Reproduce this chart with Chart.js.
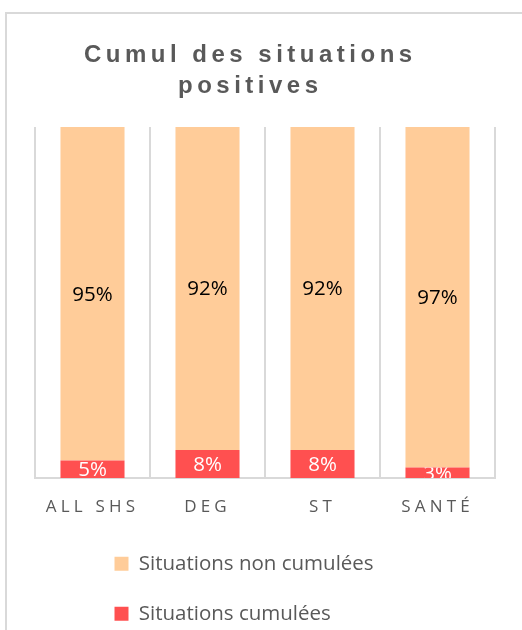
<!DOCTYPE html>
<html>
<head>
<meta charset="utf-8">
<script src="https://cdn.jsdelivr.net/npm/chart.js@4.4.1/dist/chart.umd.min.js"></script>
<style>
  html, body { margin: 0; padding: 0; background: #fff; overflow: hidden; }
  #frame { position: absolute; left: 5px; top: 12px; width: 600px; height: 700px; border: 2px solid #d9d9d9; }
  #myChart { position: absolute; left: 0; top: 0; }
</style>
</head>
<body>
<div id="frame"></div>
<canvas id="myChart" width="522" height="630"></canvas>
<script>
var categories = ["ALL SHS", "DEG", "ST", "SANTÉ"];
var cumulees = [5, 8, 8, 3];
var nonCumulees = [95, 92, 92, 97];
var seriesNames = ["Situations cumulées", "Situations non cumulées"];
var titleLines = ["Cumul des situations", "positives"];

// white / black % labels in the middle of each segment, clipped to the segment
var barLabels = {
  id: "barLabels",
  afterDatasetsDraw: function (chart) {
    var ctx = chart.ctx;
    chart.data.datasets.forEach(function (ds, i) {
      var meta = chart.getDatasetMeta(i);
      meta.data.forEach(function (bar, j) {
        var p = bar.getProps(["x", "y", "base", "width"], true);
        var top = Math.min(p.y, p.base);
        var h = Math.abs(p.base - p.y);
        ctx.save();
        ctx.beginPath();
        ctx.rect(p.x - p.width / 2, top, p.width, h);
        ctx.clip();
        ctx.font = "20.5px 'Open Sans'";
        ctx.fillStyle = ds.labelColor;
        ctx.textAlign = "center";
        ctx.textBaseline = "middle";
        ctx.fillText(ds.data[j] + "%", p.x, top + h / 2 + 1);
        ctx.restore();
      });
    });
  }
};

function wrapDraw(obj, name, spacing, dx) {
  if (!obj || obj["_w_" + name]) return;
  var orig = obj[name];
  obj["_w_" + name] = true;
  obj[name] = function () {
    var ctx = this.ctx;
    ctx.save();
    ctx.letterSpacing = spacing;
    ctx.translate(dx, 0);
    orig.apply(this, arguments);
    ctx.restore();
  };
}

// letter spacing for title + x labels, legend rows aligned left
var tweaks = {
  id: "tweaks",
  afterLayout: function (chart) {
    chart.legend.left = 115 - 30;
    chart.legend.top += 4;
    wrapDraw(chart.titleBlock, "draw", "4.5px", -14.7);
    wrapDraw(chart.scales.x, "drawLabels", "4.2px", 0);
  }
};

var ctx = document.getElementById("myChart").getContext("2d");
var chart = new Chart(ctx, {
  type: "bar",
  data: {
    labels: categories,
    datasets: [
      {
        label: seriesNames[0],
        data: cumulees,
        backgroundColor: "#FF5050",
        borderWidth: 0,
        labelColor: "#ffffff",
        barPercentage: 1,
        categoryPercentage: 0.557,
      },
      {
        label: seriesNames[1],
        data: nonCumulees,
        backgroundColor: "#FFCC99",
        borderWidth: 0,
        labelColor: "#000000",
        barPercentage: 1,
        categoryPercentage: 0.557,
      },
    ],
  },
  options: {
    responsive: false,
    animation: false,
    layout: { padding: { left: 35, right: 27, top: 0, bottom: 0 } },
    plugins: {
      title: {
        display: true,
        text: titleLines,
        color: "#595959",
        font: { family: "'Liberation Sans', Arial", size: 24, weight: "bold", lineHeight: 1.3 },
        padding: { top: 40, bottom: 24.6 },
      },
      legend: {
        position: "bottom",
        align: "start",
        reverse: true,
        labels: {
          boxWidth: 14,
          boxHeight: 14,
          padding: 29.5,
          color: "#595959",
          font: { family: "'Open Sans'", size: 20.5 },
        },
      },
      tooltip: { enabled: false },
    },
    scales: {
      x: {
        stacked: true,
        grid: { offset: true, color: "#d9d9d9", lineWidth: 2, drawTicks: false },
        border: { color: "#d9d9d9", width: 2 },
        ticks: { color: "#595959", font: { family: "'Open Sans'", size: 17 }, padding: 19 },
        afterFit: function (s) {
          s.height = 42;
        },
      },
      y: {
        stacked: true,
        display: false,
        min: 0,
        max: 100,
      },
    },
  },
  plugins: [barLabels, tweaks],
});
</script>
</body>
</html>
